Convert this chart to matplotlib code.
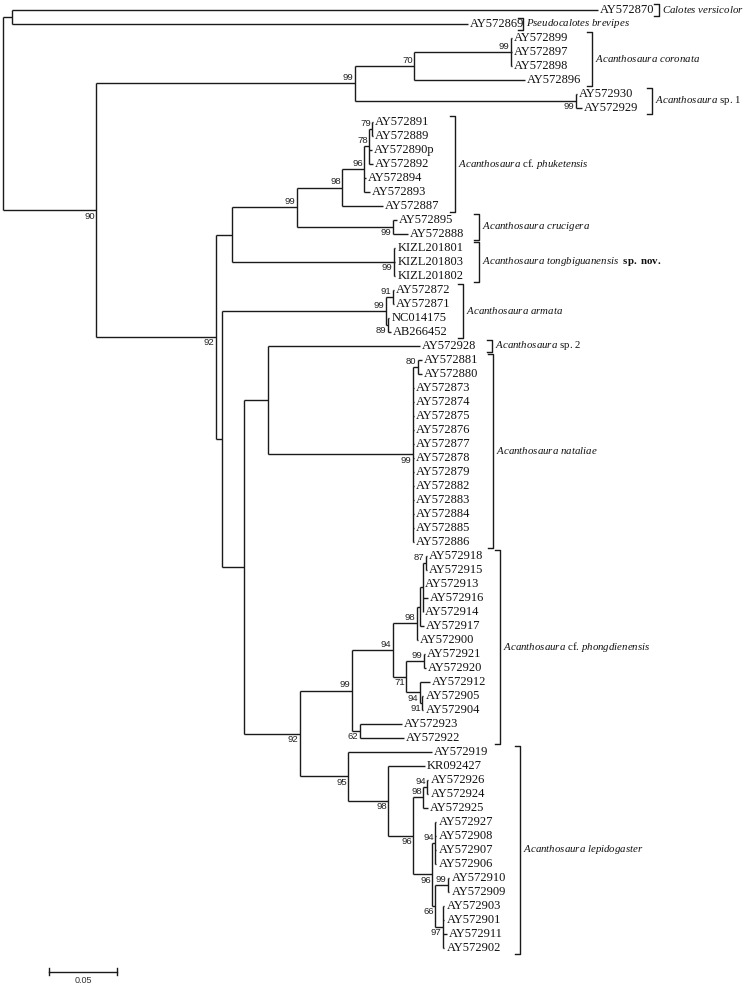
import matplotlib
matplotlib.use('Agg')
import matplotlib.pyplot as plt

plt.rcParams['mathtext.fontset'] = 'custom'
plt.rcParams['mathtext.it'] = 'Liberation Serif:italic'
plt.rcParams['mathtext.rm'] = 'Liberation Serif'
plt.rcParams['mathtext.bf'] = 'Liberation Serif:bold'

## tree pieces in newick (branch lengths = subst./site, internal labels = bootstrap)
outgroup = "(AY572870:0.4309,AY572869:0.3353):0.0066"
coronata = "((AY572899:0.0007,AY572897:0.0007,AY572898:0.0007)99:0.0713,AY572896:0.0816)70:0.0434"
sp1 = "(AY572930:0.0007,AY572929:0.0044)99:0.1625"
phuketensis = ("((((AY572891:0.0007,AY572889:0.0007)79:0.0022,AY572890p:0.0022,AY572892:0.0030)78:0.0037,"
               "AY572894:0.0015,AY572893:0.0045)96:0.0162,AY572887:0.0301)98:0.0331")
crucigera = "(AY572895:0.0030,AY572888:0.0110)99:0.0706"
tongbiguanensis = "(KIZL201801:0.0010,KIZL201803:0.0010,KIZL201802:0.0010)99:0.1191"
armata = "((AY572872:0.0010,AY572871:0.0010)91:0.0051,(NC014175:0.0010,AB266452:0.0020)89:0.0015)99:0.1206"
sp2 = "AY572928:0.1118"
nataliae = ("((AY572881:0.0030,AY572880:0.0030)80:0.0037,AY572873:0.0010,AY572874:0.0010,AY572875:0.0010,"
            "AY572876:0.0010,AY572877:0.0010,AY572878:0.0010,AY572879:0.0010,AY572882:0.0010,AY572883:0.0010,"
            "AY572884:0.0010,AY572885:0.0010,AY572886:0.0010)99:0.1066")
phongdienensis = ("((((((AY572918:0.0010,AY572915:0.0010)87:0.0022,AY572913:0.0005,AY572916:0.0040,AY572914:0.0005):0.0020,"
                  "AY572917:0.0030):0.0022,AY572900:0.0010)98:0.0176,((AY572921:0.0010,AY572920:0.0015)99:0.0132,"
                  "(AY572912:0.0074,(AY572905:0.0010,AY572904:0.0010)91:0.0015)94:0.0103)71:0.0096)94:0.0301,"
                  "(AY572923:0.0309,AY572922:0.0324)62:0.0059)99:0.0382")
lepidogaster = ("(AY572919:0.0618,(KR092427:0.0272,(((AY572926:0.0010,AY572924:0.0010)94:0.0029,AY572925:0.0037)98:0.0074,"
                "((AY572927:0.0010,AY572908:0.0010,AY572907:0.0010,AY572906:0.0010)94:0.0022,"
                "((AY572910:0.0010,AY572909:0.0010)99:0.0096,(AY572903:0.0010,AY572901:0.0010,AY572911:0.0030,"
                "AY572902:0.0010)97:0.0059)66:0.0022)96:0.0140)96:0.0184)98:0.0294)95:0.0353")

# backbone
upper = "(" + coronata + "," + sp1 + ")99:0.1904"
n232 = "((" + phuketensis + "," + crucigera + ")99:0.0478," + tongbiguanensis + "):0.0118"
n268 = "(" + sp2 + "," + nataliae + "):0.0176"
n300 = "(" + phongdienensis + "," + lepidogaster + ")92:0.0412"
n244 = "(" + n268 + "," + n300 + "):0.0162"
n222 = "(" + armata + "," + n244 + "):0.0044"
n216 = "(" + n232 + "," + n222 + ")92:0.0882"
ingroup = "(" + upper + "," + n216 + ")90:0.0684"
tree_str = "(" + outgroup + "," + ingroup + ");"

# clade brackets
clade_first = ['AY572870', 'AY572869', 'AY572899', 'AY572930', 'AY572891', 'AY572895', 'KIZL201801',
               'AY572872', 'AY572928', 'AY572881', 'AY572918', 'AY572919']
clade_last = ['AY572870', 'AY572869', 'AY572896', 'AY572929', 'AY572887', 'AY572888', 'KIZL201802',
              'AB266452', 'AY572928', 'AY572886', 'AY572922', 'AY572902']
clade_names = [r'$\mathit{Calotes\ versicolor}$',
               r'$\mathit{Pseudocalotes\ brevipes}$',
               r'$\mathit{Acanthosaura\ coronata}$',
               r'$\mathit{Acanthosaura}$ sp. 1',
               r'$\mathit{Acanthosaura}$ cf. $\mathit{phuketensis}$',
               r'$\mathit{Acanthosaura\ crucigera}$',
               r'$\mathit{Acanthosaura\ tongbiguanensis}$  $\mathbf{sp.\ nov.}$',
               r'$\mathit{Acanthosaura\ armata}$',
               r'$\mathit{Acanthosaura}$ sp. 2',
               r'$\mathit{Acanthosaura\ nataliae}$',
               r'$\mathit{Acanthosaura}$ cf. $\mathit{phongdienensis}$',
               r'$\mathit{Acanthosaura\ lepidogaster}$']
scale_len = 0.05

# layout (pixels)
bracket_px = [659, 523, 592, 652, 455, 479, 479, 463, 492, 493, 500, 520]
PX = 1360.0   # pixels per unit
X0 = 3        # root pixel
ROW0, ROWH = 10, 14


def parse(s):
    pos = 0

    def node():
        nonlocal pos
        n = {'children': [], 'name': '', 'bl': 0.0}
        if s[pos] == '(':
            pos += 1
            while True:
                n['children'].append(node())
                c = s[pos]
                pos += 1
                if c == ')':
                    break
        start = pos
        while s[pos] not in ':,);':
            pos += 1
        n['name'] = s[start:pos]
        if s[pos] == ':':
            pos += 1
            start = pos
            while s[pos] not in ',);':
                pos += 1
            n['bl'] = float(s[start:pos])
        return n
    return node()


root = parse(tree_str)
leaves = []


def layout(n, x):
    n['x'] = x + n['bl']
    if not n['children']:
        n['y'] = len(leaves)
        leaves.append(n)
    else:
        for c in n['children']:
            layout(c, n['x'])
        n['y'] = 0.5 * (n['children'][0]['y'] + n['children'][-1]['y'])


root['bl'] = 0.0
layout(root, 0.0)

fig = plt.figure(figsize=(7.56, 9.88), dpi=100)
ax = fig.add_axes([0, 0, 1, 1])
ax.set_xlim(-X0 / PX, (756 - X0) / PX)
ax.set_ylim((988 - ROW0) / ROWH, -ROW0 / ROWH)
ax.axis('off')

lc = '#1a1a1a'
lw = 1.0


def draw(n):
    ch = n['children']
    if not ch:
        ax.annotate(n['name'], (n['x'], n['y']), xytext=(1.5, 0), textcoords='offset points',
                    ha='left', va='center', fontsize=9, family='Liberation Serif', color='#111111')
        return
    ax.plot([n['x'], n['x']], [ch[0]['y'], ch[-1]['y']], color=lc, lw=lw, solid_capstyle='butt')
    for i, c in enumerate(ch):
        ax.plot([n['x'], c['x']], [c['y'], c['y']], color=lc, lw=lw, solid_capstyle='butt')
        if c['children'] and c['name']:
            below = (i == len(ch) - 1)
            ax.annotate(c['name'], (c['x'], c['y']), xytext=(-1.0, -1.0 if below else 1.0),
                        textcoords='offset points', ha='right', va='top' if below else 'bottom',
                        fontsize=6.8, family='Liberation Sans', color='#222222')
        draw(c)


draw(root)

# clade brackets
ypos = {l['name']: l['y'] for l in leaves}
for f, l, name, bx in zip(clade_first, clade_last, clade_names, bracket_px):
    y1, y2 = ypos[f] - 0.4, ypos[l] + 0.4
    x = (bx - X0) / PX
    tick = 5 / PX
    ax.plot([x - tick, x, x, x - tick], [y1, y1, y2, y2], color=lc, lw=1.0)
    ax.annotate(name, (x, 0.5 * (y1 + y2)), xytext=(2.5, 0), textcoords='offset points',
                ha='left', va='center', fontsize=7.8, family='Liberation Serif', color='#111111')

# scale bar
sx = (49 - X0) / PX
sy = (972 - ROW0) / ROWH
ax.plot([sx, sx + scale_len], [sy, sy], color=lc, lw=1.0)
for xx in (sx, sx + scale_len):
    ax.plot([xx, xx], [sy - 0.25, sy + 0.25], color=lc, lw=1.0)
ax.annotate('%.2f' % scale_len, (sx + scale_len / 2, sy), xytext=(0, -3), textcoords='offset points',
            ha='center', va='top', fontsize=6.5, family='Liberation Sans', color='#333333')

fig.savefig('out.png', dpi=100)
